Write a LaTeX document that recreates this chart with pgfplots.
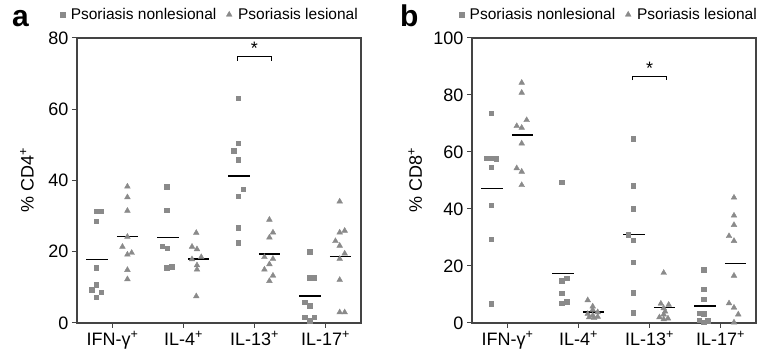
\documentclass[border=0pt]{standalone}
\usepackage{fontspec}
\setmainfont{Liberation Sans}
\usepackage{pgfplots}
\pgfplotsset{compat=1.18}
\definecolor{mk}{HTML}{8A8A8A}
\definecolor{ax}{HTML}{444444}
\pgfplotsset{
  myax/.style={
    scale only axis, width=284pt, height=285pt,
    xmin=0.5, xmax=4.5, ymin=0,
    xtick={1,2,3,4},
    xticklabels={IFN-γ\textsuperscript{+}, IL-4\textsuperscript{+}, IL-13\textsuperscript{+}, IL-17\textsuperscript{+}},
    tick align=outside, xtick pos=bottom, ytick pos=left, major tick length=5pt,
    axis line style={ax, line width=1.1pt}, tick style={ax, line width=1pt},
    tick label style={font=\fontsize{18}{21}\selectfont},
    /pgf/number format/assume math mode=true,
    ylabel style={font=\fontsize{18}{21}\selectfont, anchor=center},
    legend style={draw=none, fill=none, font=\fontsize{15.5}{18}\selectfont, legend columns=2,
      anchor=west, inner sep=0pt, nodes={inner sep=0pt},
      /tikz/every odd column/.append style={column sep=6pt},
      /tikz/every even column/.append style={column sep=10pt}},
    legend cell align=left,
    clip=false,
  },
  sq/.style={only marks, mark=square*, mark size=2.3pt, mk, mark options={draw=mk, fill=mk},
    legend image code/.code={\draw[##1] plot coordinates {(0pt,0pt)};}},
  tr/.style={only marks, mark=triangle*, mark size=3.3pt, mk, mark options={draw=mk, fill=mk},
    legend image code/.code={\draw[##1] plot coordinates {(0pt,0pt)};}},
  mline/.style={black, line width=1.4pt, forget plot},
}
\begin{document}
\begin{tikzpicture}
\useasboundingbox (0,0) rectangle (765pt,363pt);
% ---------------- panel a
\begin{axis}[myax, at={(77pt,40pt)}, anchor=south west,
  ymax=80, ytick={0,20,40,60,80},
  ylabel={\% CD4\textsuperscript{+}},
  ylabel style={at={(axis description cs:-0.176,0.5)}},
  legend style={at={(axis description cs:-0.06,1.082)}}]
\addplot[sq] coordinates {
 (0.77,31.4)(0.84,31.4)(0.77,28.6)(0.77,15.5)(0.77,10.8)(0.71,9.4)(0.84,8.6)(0.77,7.2)
 (1.76,38.3)(1.76,31.7)(1.70,21.6)(1.77,21.0)(1.76,15.5)(1.83,15.8)
 (2.77,63.1)(2.77,50.5)(2.71,48.3)(2.77,45.9)(2.84,37.6)(2.77,35.6)(2.77,26.8)(2.77,22.6)
 (3.78,20.0)(3.78,12.7)(3.84,12.7)(3.71,5.8)(3.78,4.8)(3.71,1.6)(3.84,1.6)(3.78,0.7)
};
\addlegendentry{Psoriasis nonlesional}
\addplot[tr] coordinates {
 (1.21,38.3)(1.21,35.3)(1.21,31.5)(1.21,24.2)(1.14,21.4)(1.27,19.7)(1.21,19.2)(1.21,14.9)(1.21,12.3)
 (2.18,25.3)(2.12,21.4)(2.19,20.7)(2.25,18.5)(2.12,17.9)(2.19,16.2)(2.19,15.0)(2.18,7.5)
 (3.21,29.0)(3.26,25.4)(3.21,24.0)(3.14,18.5)(3.26,18.0)(3.21,16.5)(3.14,15.0)(3.26,13.3)(3.21,11.8)
 (4.20,34.1)(4.27,25.9)(4.20,25.4)(4.14,23.0)(4.20,21.7)(4.27,19.5)(4.20,18.0)(4.20,12.1)(4.20,3.0)(4.27,3.0)
};
\addlegendentry{Psoriasis lesional}
\addplot[mline] coordinates {(0.63,17.9)(0.93,17.9)};
\addplot[mline] coordinates {(1.06,24.2)(1.36,24.2)};
\addplot[mline] coordinates {(1.63,24.0)(1.93,24.0)};
\addplot[mline] coordinates {(2.06,18.0)(2.36,18.0)};
\addplot[mline] coordinates {(2.63,41.3)(2.93,41.3)};
\addplot[mline] coordinates {(3.06,19.4)(3.36,19.4)};
\addplot[mline] coordinates {(3.63,7.6)(3.93,7.6)};
\addplot[mline] coordinates {(4.06,18.6)(4.36,18.6)};
\addplot[black, line width=0.9pt, forget plot] coordinates {(2.76,73.6)(2.76,74.8)(3.24,74.8)(3.24,73.6)};
\node[anchor=south, font=\fontsize{18}{18}\selectfont, inner sep=0pt] at (axis cs:3,75.3) {*};
\end{axis}
% ---------------- panel b
\begin{axis}[myax, at={(472pt,40pt)}, anchor=south west,
  ymax=100, ytick={0,20,40,60,80,100},
  ylabel={\% CD8\textsuperscript{+}},
  ylabel style={at={(axis description cs:-0.2,0.5)}},
  legend style={at={(axis description cs:-0.046,1.082)}}]
\addplot[sq] coordinates {
 (0.77,73.6)(0.71,57.8)(0.77,57.8)(0.84,57.6)(0.77,54.7)(0.77,41.4)(0.77,29.4)(0.77,6.7)
 (1.76,49.4)(1.83,15.7)(1.76,14.9)(1.76,10.4)(1.83,7.5)(1.76,6.9)
 (2.77,64.6)(2.77,48.1)(2.77,40.0)(2.70,30.9)(2.77,29.1)(2.77,21.3)(2.77,10.6)(2.77,3.7)
 (3.76,18.6)(3.76,11.9)(3.76,8.4)(3.70,3.4)(3.76,3.2)(3.70,1.0)(3.82,0.8)(3.76,0.3)
};
\addlegendentry{Psoriasis nonlesional}
\addplot[tr] coordinates {
 (1.20,84.3)(1.20,80.8)(1.27,71.2)(1.13,69.1)(1.20,68.5)(1.20,63.0)(1.13,54.3)(1.20,53.1)(1.20,48.4)
 (2.13,8.0)(2.20,5.8)(2.20,4.6)(2.27,3.8)(2.13,3.2)(2.20,2.6)(2.27,2.2)(2.15,2.0)(2.22,1.8)
 (3.20,17.6)(3.16,6.8)(3.27,6.4)(3.20,5.2)(3.22,4.0)(3.20,3.0)(3.14,2.0)(3.26,1.6)(3.20,1.3)
 (4.19,44.0)(4.19,37.7)(4.19,34.4)(4.12,30.5)(4.19,28.8)(4.19,16.6)(4.12,6.9)(4.19,5.4)(4.25,3.0)(4.19,0.2)
};
\addlegendentry{Psoriasis lesional}
\addplot[mline] coordinates {(0.63,47.2)(0.93,47.2)};
\addplot[mline] coordinates {(1.06,66.0)(1.36,66.0)};
\addplot[mline] coordinates {(1.63,17.4)(1.93,17.4)};
\addplot[mline] coordinates {(2.06,3.8)(2.36,3.8)};
\addplot[mline] coordinates {(2.63,31.1)(2.93,31.1)};
\addplot[mline] coordinates {(3.06,5.5)(3.36,5.5)};
\addplot[mline] coordinates {(3.63,6.0)(3.93,6.0)};
\addplot[mline] coordinates {(4.06,20.9)(4.36,20.9)};
\addplot[black, line width=0.9pt, forget plot] coordinates {(2.76,85.2)(2.76,86.5)(3.24,86.5)(3.24,85.2)};
\node[anchor=south, font=\fontsize{18}{18}\selectfont, inner sep=0pt] at (axis cs:3,87.2) {*};
\end{axis}
\node[anchor=base west, font=\bfseries\fontsize{30}{30}\selectfont, inner sep=0pt] at (12pt,336pt) {a};
\node[anchor=base west, font=\bfseries\fontsize{30}{30}\selectfont, inner sep=0pt] at (400pt,336pt) {b};
\end{tikzpicture}
\end{document}
